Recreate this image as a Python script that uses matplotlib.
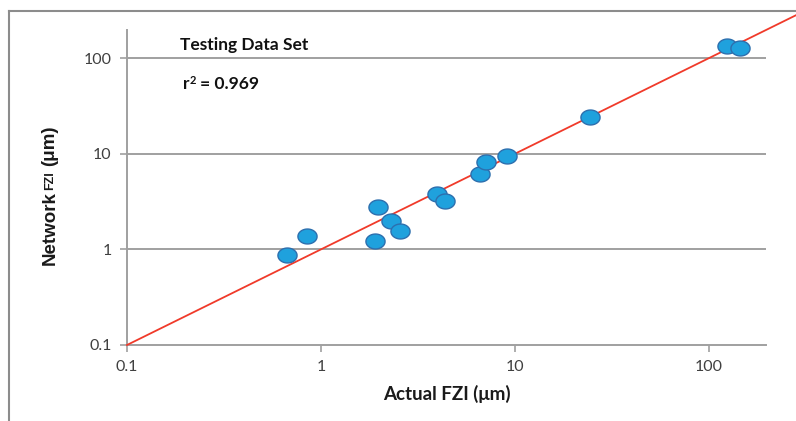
import numpy as np
import matplotlib
matplotlib.use("Agg")
import matplotlib.pyplot as plt
from matplotlib.path import Path
from matplotlib.lines import Line2D

actual_fzi = [0.67, 0.85, 1.90, 1.97, 2.30, 2.55, 3.96, 4.36, 6.6, 7.1, 9.1, 24.4, 124, 145]
network_fzi = [0.87, 1.37, 1.21, 2.8, 2.0, 1.54, 3.83, 3.24, 6.2, 8.25, 9.5, 24.3, 133, 127]
fit_x = [0.1, 1000]
tick_vals = [0.1, 1, 10, 100]
tick_labels = ["0.1", "1", "10", "100"]

W, H = 796, 421
fig = plt.figure(figsize=(W / 100, H / 100), dpi=100)
ax = fig.add_axes([127 / W, 1 - 345 / H, (766 - 127) / W, (345 - 30) / H])
ax.set_xscale("log")
ax.set_yscale("log")
ax.set_xlim(0.1, 197)
ax.set_ylim(0.1, 197)

grid_c = "#a0a0a0"
for v in tick_vals[1:]:
    ax.axhline(v, color=grid_c, lw=1.4, zorder=1)

ax.plot(fit_x, fit_x, color="#f03a2a", lw=1.3, zorder=3, clip_on=False)

t = np.linspace(0, 2 * np.pi, 60)
ell = Path(np.column_stack([np.cos(t) * 1.0, np.sin(t) * 0.78]))
ax.scatter(actual_fzi, network_fzi, marker=ell, s=190, facecolor="#1fa1dd",
           edgecolor="#2d6fae", linewidths=1.0, zorder=4)

for s in ["top", "right"]:
    ax.spines[s].set_visible(False)
for s in ["left", "bottom"]:
    ax.spines[s].set_color(grid_c)
    ax.spines[s].set_linewidth(1.4)

ax.set_xticks(tick_vals)
ax.set_xticklabels(tick_labels)
ax.set_yticks(tick_vals)
ax.set_yticklabels(tick_labels)
ax.minorticks_off()
ax.tick_params(axis="both", colors=grid_c, length=5, width=1.2, labelcolor="#404040",
               labelsize=11.5, pad=6)
for lab in ax.get_xticklabels() + ax.get_yticklabels():
    lab.set_fontfamily("Lato")

ax.set_xlabel("Actual FZI (μm)", fontsize=13.5, fontweight="bold", family="Lato",
              color="#1a1a1a", labelpad=8)

renderer = fig.canvas.get_renderer()


def px(x, y):
    return x / W, 1 - y / H


# y label pieces, placed bottom-to-top (rotated 90)
lab_x = 50
y_cursor = 265  # bottom of "Network" in pixels from top
pieces = [("Network", 13.5, 1), ("FZI", 9, 5), ("(μm)", 13.5, 0)]
for text, size, gap in pieces:
    tt = fig.text(*px(lab_x, y_cursor), text, rotation=90, fontsize=size,
                  fontweight="bold", family="Liberation Sans", va="bottom",
                  ha="center", color="#1a1a1a")
    bb = tt.get_window_extent(renderer)
    y_cursor = y_cursor - bb.height - gap

fig.text(*px(180, 45), "Testing Data Set", fontsize=12.5, fontweight="bold",
         family="Lato", va="center", ha="left", color="#111111")
r = fig.text(*px(183, 84), "r", fontsize=12.5, fontweight="bold",
             family="Lato", va="center", ha="left", color="#111111")
rb = r.get_window_extent(renderer)
fig.text(rb.x1 / W + 0.5 / W, 1 - 80 / H, "2", fontsize=8, fontweight="bold",
         family="Lato", va="center", ha="left", color="#111111")
fig.text(rb.x1 / W + 11 / W, 1 - 84 / H, "= 0.969", fontsize=12.5, fontweight="bold",
         family="Lato", va="center", ha="left", color="#111111")

frame_c = "#8c8c8c"
fig.add_artist(Line2D([9 / W, 9 / W], [0, 1 - 11 / H], color=frame_c, lw=1.5,
                      transform=fig.transFigure))
fig.add_artist(Line2D([9 / W, 1], [1 - 11 / H, 1 - 11 / H], color=frame_c, lw=1.5,
                      transform=fig.transFigure))

fig.savefig("out.png", dpi=100)
